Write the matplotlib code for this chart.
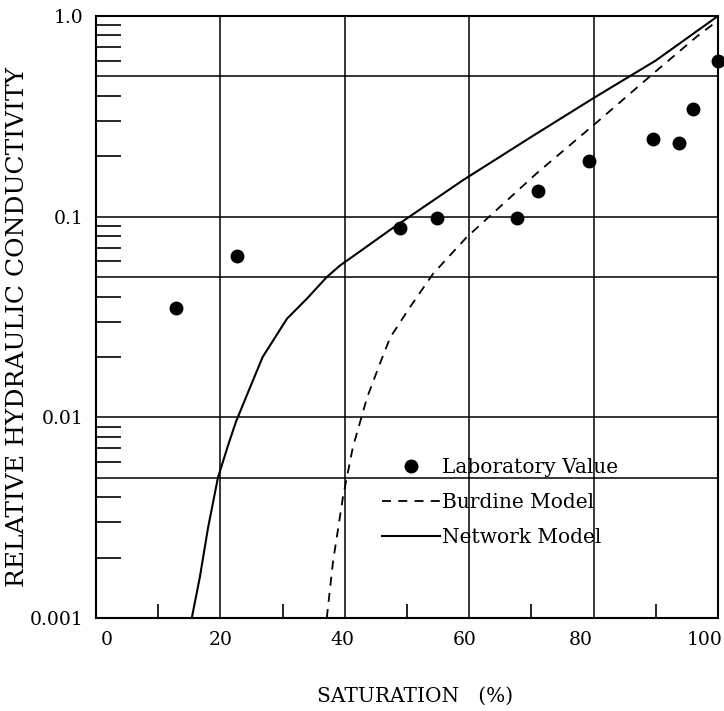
import matplotlib
matplotlib.use("Agg")
import matplotlib.pyplot as plt
import matplotlib.transforms as mtransforms
from matplotlib.ticker import FixedLocator, NullFormatter

# Laboratory data
lab_sat = [12.9, 22.7, 48.9, 54.8, 67.7, 71.1, 79.3, 89.6, 93.7, 96.0, 100.0]
lab_k = [0.035, 0.064, 0.088, 0.099, 0.099, 0.134, 0.19, 0.244, 0.233, 0.344, 0.60]

# Burdine model
bur_sat = [37.1, 38.1, 39.7, 41.3, 43.6, 45.7, 47.3, 50.5, 54.2, 59.6, 70.9, 80.0, 90.0, 96.6, 100.0]
bur_k = [0.001, 0.0019, 0.004, 0.0071, 0.0126, 0.0187, 0.025, 0.0355, 0.052, 0.079, 0.165, 0.286, 0.53, 0.79, 0.95]

# Network model
net_sat = [15.4, 16.7, 18.0, 19.6, 21.2, 22.5, 24.3, 26.8, 30.7, 33.9, 37.1, 39.2, 42.4, 47.3, 59.0, 70.0, 80.0, 90.0, 100.0]
net_k = [0.001, 0.0016, 0.0028, 0.005, 0.0072, 0.0095, 0.013, 0.020, 0.031, 0.039, 0.050, 0.057, 0.067, 0.086, 0.152, 0.25, 0.39, 0.60, 1.0]

x_ticks = [0, 20, 40, 60, 80, 100]
x_ticklabels = ["0", "20", "40", "60", "80", "100"]
y_ticks = [0.001, 0.01, 0.1, 1.0]
y_ticklabels = ["0.001", "0.01", "0.1", "1.0"]
grid_x = [20, 40, 60, 80]
grid_y = [0.005, 0.01, 0.05, 0.1, 0.5]

serif = ["DejaVu Serif"]

fig = plt.figure(figsize=(7.24, 7.11), dpi=100)
ax = fig.add_axes([0.1326, 0.1308, 0.8591, 0.8467])
ax.set_yscale("log")
ax.set_xlim(0, 100)
ax.set_ylim(0.001, 1.0)

for gx in grid_x:
    ax.axvline(gx, color="black", lw=1.1, zorder=1)
for gy in grid_y:
    ax.axhline(gy, color="black", lw=1.1, zorder=1)

ax.plot(net_sat, net_k, color="black", lw=1.5, ls="-", label="Network Model", zorder=3)
ax.plot(bur_sat, bur_k, color="black", lw=1.3, ls=(0, (5, 4)), label="Burdine Model", zorder=3)
ax.plot(lab_sat, lab_k, ls="none", marker="o", ms=9, color="black", label="Laboratory Value", zorder=4, clip_on=False)

ax.xaxis.set_major_locator(FixedLocator(x_ticks))
ax.set_xticklabels(x_ticklabels)
ax.xaxis.set_minor_locator(FixedLocator([10, 30, 50, 70, 90]))
ax.yaxis.set_major_locator(FixedLocator(y_ticks))
ax.set_yticklabels(y_ticklabels)
minor_y = [m * 10.0 ** e for e in (-3, -2, -1) for m in (2, 3, 4, 6, 7, 8, 9)]
ax.yaxis.set_minor_locator(FixedLocator(minor_y))
ax.yaxis.set_minor_formatter(NullFormatter())
ax.xaxis.set_minor_formatter(NullFormatter())

ax.tick_params(axis="both", which="major", direction="in", length=0, labelsize=13.5, pad=9)
ax.tick_params(axis="x", which="minor", direction="in", length=10, width=1.2)
ax.tick_params(axis="y", which="minor", direction="in", length=18, width=1.2)
for lbl in ax.get_yticklabels():
    lbl.set_family(serif)

# the printed x labels sit slightly off their ticks
x_shift_px = [11, 0, -2, -5, -13, -13]
for lbl, dx in zip(ax.get_xticklabels(), x_shift_px):
    lbl.set_family(serif)
    lbl.set_transform(lbl.get_transform() + mtransforms.ScaledTranslation(dx / 100.0, 0, fig.dpi_scale_trans))

for s in ax.spines.values():
    s.set_linewidth(1.5)

ax.set_xlabel("SATURATION   (%)", family=serif, fontsize=14.5)
ax.xaxis.set_label_coords(0.5 + 8 / 622.0, -0.115)
ax.set_ylabel("RELATIVE HYDRAULIC CONDUCTIVITY", family=serif, fontsize=18)
ax.yaxis.set_label_coords(-0.108, 0.483)

handles, labels = ax.get_legend_handles_labels()
order = [2, 1, 0]
leg = ax.legend([handles[i] for i in order], [labels[i] for i in order],
                loc="upper left", bbox_to_anchor=(0.43, 0.296), frameon=False,
                prop={"family": "DejaVu Serif", "size": 14.5}, handlelength=2.9,
                handletextpad=0.1, labelspacing=0.8)

fig.savefig("out.png", dpi=100)
